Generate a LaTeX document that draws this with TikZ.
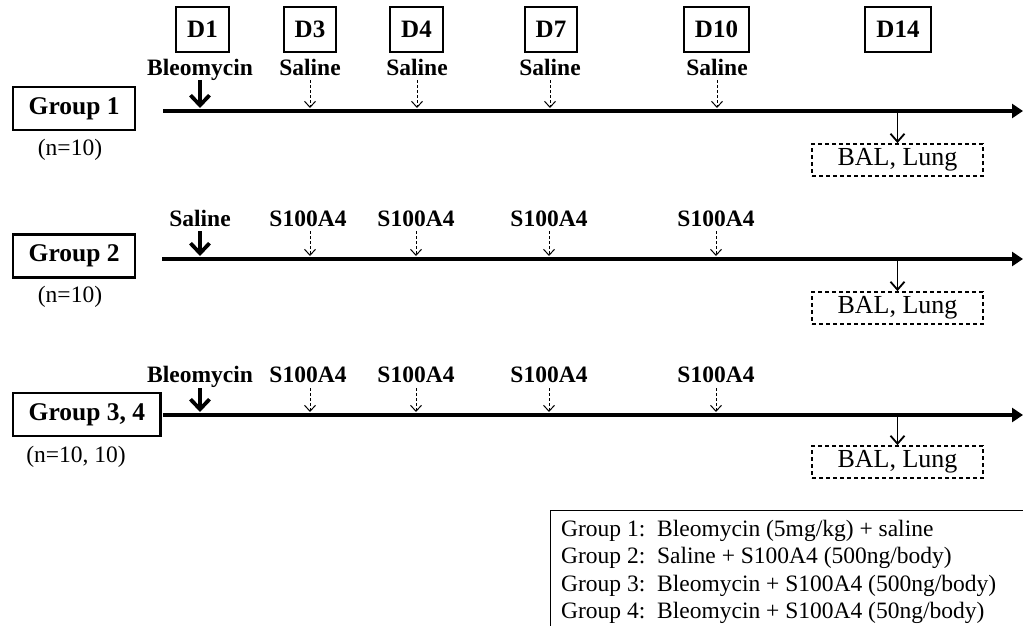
\documentclass[tikz,border=0pt]{standalone}
\usepackage{fontspec}
\setmainfont{Liberation Serif}
\usetikzlibrary{arrows.meta}
\begin{document}
\begin{tikzpicture}[x=1pt,y=-1pt,
  dbox/.style={draw, line width=2pt, minimum height=45pt, inner xsep=11pt, font=\fontsize{25}{30}\selectfont\bfseries},
  gbox/.style={draw, line width=2.4pt, minimum height=43pt, inner xsep=15.5pt, anchor=west, font=\fontsize{25.5}{30}\selectfont\bfseries},
  ntext/.style={inner sep=0pt, font=\fontsize{23.5}{28}\selectfont},
  lbl/.style={anchor=base, inner sep=0pt, font=\fontsize{23.5}{28}\selectfont\bfseries},
  tline/.style={line width=4.5pt, -{Triangle[length=11pt,width=14pt]}},
  bigarr/.style={line width=3.8pt, shorten >=3pt, -{Straight Barb[length=10pt,width=19pt]}},
  dasharr/.style={line width=1pt, shorten >=3pt, dash pattern=on 3pt off 2pt, -{Straight Barb[length=6pt,width=11pt]}},
  outarr/.style={line width=1.8pt, shorten <=2pt, -{Straight Barb[length=8pt,width=14pt]}},
  bal/.style={draw, line width=1.8pt, dash pattern=on 4pt off 3pt, minimum width=171pt, minimum height=32pt, inner sep=0pt, font=\fontsize{26}{30}\selectfont},
  leg/.style={anchor=base west, inner sep=0pt, font=\fontsize{23.5}{28}\selectfont}
]
\path[use as bounding box, clip] (0,0) rectangle (1023,626);

% day boxes
\node[dbox] (d1) at (202.5,29.5) {D1};
\node[dbox] (d3) at (310,29.5) {D3};
\node[dbox] (d4) at (416.5,29.5) {D4};
\node[dbox] (d7) at (551,29.5) {D7};
\node[dbox] (d10) at (716.5,29.5) {D10};
\node[dbox] (d14) at (898,29.5) {D14};

% ---------- Group 1 ----------
\node[gbox] (g1) at (12,108.5) {Group 1};
\node[ntext] (n1) at (70,150) {(n=10)};
\coordinate (t1s) at (163,111);
\coordinate (t1e) at (1023,111);
\draw[tline] (t1s) -- (t1e);
\node[lbl] (l1a) at (200,76) {Bleomycin};
\node[lbl] (l1b) at (310,76) {Saline};
\node[lbl] (l1c) at (417,76) {Saline};
\node[lbl] (l1d) at (550,76) {Saline};
\node[lbl] (l1e) at (717,76) {Saline};
\draw[bigarr] ([yshift=-4pt]l1a.base) -- (l1a.base |- t1s);
\draw[dasharr] ([yshift=-4pt]l1b.base) -- (l1b.base |- t1s);
\draw[dasharr] ([yshift=-4pt]l1c.base) -- (l1c.base |- t1s);
\draw[dasharr] ([yshift=-4pt]l1d.base) -- (l1d.base |- t1s);
\draw[dasharr] ([yshift=-4pt]l1e.base) -- (l1e.base |- t1s);
\node[bal] (b1) at (897.5,160) {BAL, Lung};
\draw[outarr] (b1.north |- t1s) -- (b1.north);

% ---------- Group 2 ----------
\node[gbox] (g2) at (12,256) {Group 2};
\node[ntext] (n2) at (70,297) {(n=10)};
\coordinate (t2s) at (162,259);
\coordinate (t2e) at (1023,259);
\draw[tline] (t2s) -- (t2e);
\node[lbl] (l2a) at (200,226) {Saline};
\node[lbl] (l2b) at (308,226) {S100A4};
\node[lbl] (l2c) at (416,226) {S100A4};
\node[lbl] (l2d) at (549,226) {S100A4};
\node[lbl] (l2e) at (716,226) {S100A4};
\draw[bigarr] ([yshift=-5pt]l2a.base) -- (l2a.base |- t2s);
\draw[dasharr] ([yshift=-5pt]l2b.base) ++(2,0) -- ([xshift=2pt]l2b.base |- t2s);
\draw[dasharr] ([yshift=-5pt]l2c.base) -- (l2c.base |- t2s);
\draw[dasharr] ([yshift=-5pt]l2d.base) -- (l2d.base |- t2s);
\draw[dasharr] ([yshift=-5pt]l2e.base) -- (l2e.base |- t2s);
\node[bal] (b2) at (897.5,308) {BAL, Lung};
\draw[outarr] (b2.north |- t2s) -- (b2.north);

% ---------- Group 3, 4 ----------
\node[gbox] (g3) at (12,414.5) {Group 3, 4};
\node[ntext] (n3) at (76,457) {(n=10, 10)};
\coordinate (t3s) at (163,415);
\coordinate (t3e) at (1023,415);
\draw[tline] (t3s) -- (t3e);
\node[lbl] (l3a) at (200,382) {Bleomycin};
\node[lbl] (l3b) at (308,382) {S100A4};
\node[lbl] (l3c) at (416,382) {S100A4};
\node[lbl] (l3d) at (549,382) {S100A4};
\node[lbl] (l3e) at (716,382) {S100A4};
\draw[bigarr] ([yshift=-6pt]l3a.base) -- (l3a.base |- t3s);
\draw[dasharr] ([yshift=-6pt]l3b.base) ++(2,0) -- ([xshift=2pt]l3b.base |- t3s);
\draw[dasharr] ([yshift=-6pt]l3c.base) -- (l3c.base |- t3s);
\draw[dasharr] ([yshift=-6pt]l3d.base) -- (l3d.base |- t3s);
\draw[dasharr] ([yshift=-6pt]l3e.base) -- (l3e.base |- t3s);
\node[bal] (b3) at (897.5,462) {BAL, Lung};
\draw[outarr] (b3.north |- t3s) -- (b3.north);

% ---------- legend ----------
\node[draw, line width=1.2pt, anchor=north west, minimum width=500pt, minimum height=150pt] (legend) at (550,510) {};
\node[leg] (lg1) at (561,536) {Group 1:~~Bleomycin (5mg/kg) + saline};
\node[leg] (lg2) at (561,563.5) {Group 2:~~Saline + S100A4 (500ng/body)};
\node[leg] (lg3) at (561,591) {Group 3:~~Bleomycin + S100A4 (500ng/body)};
\node[leg] (lg4) at (561,618.5) {Group 4:~~Bleomycin + S100A4 (50ng/body)};
\end{tikzpicture}
\end{document}
